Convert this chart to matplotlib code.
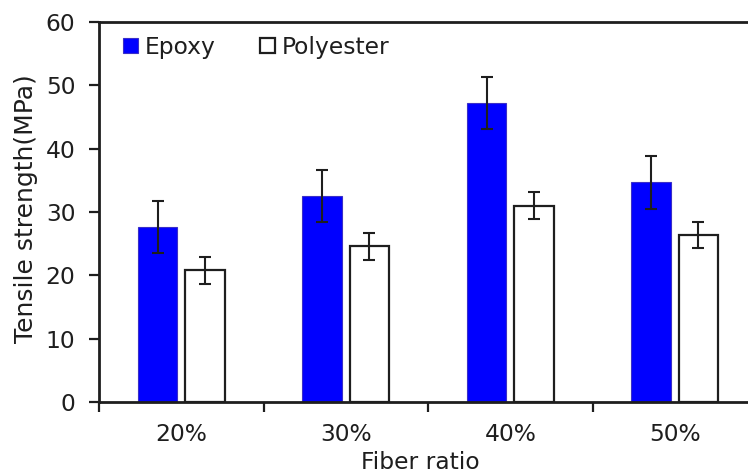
import matplotlib
matplotlib.use("Agg")
import matplotlib.pyplot as plt
import numpy as np

categories = ["20%", "30%", "40%", "50%"]
epoxy = [27.7, 32.5, 47.2, 34.7]
epoxy_err = [4.1, 4.1, 4.1, 4.2]
polyester = [20.8, 24.6, 31.0, 26.4]
polyester_err = [2.1, 2.1, 2.1, 2.1]
y_ticks = [0, 10, 20, 30, 40, 50, 60]

plt.rcParams['font.family'] = ['DejaVu Sans']
dark = '#1e1e1e'

fig = plt.figure(figsize=(7.48, 4.75), dpi=100)
ax = fig.add_axes([99/748, 73/475, 658/748, 380/475])

x = np.arange(len(categories)) + 0.5
w = 0.24
off = 0.143
ax.bar(x - off, epoxy, w, color='#0000FF', edgecolor='#3a2fc8', linewidth=0.8,
       label='Epoxy', zorder=2)
ax.bar(x + off, polyester, w, color='white', edgecolor=dark, linewidth=1.6,
       label='Polyester', zorder=2)
ax.errorbar(x - off, epoxy, yerr=epoxy_err, fmt='none', ecolor=dark,
            elinewidth=1.5, capsize=4, capthick=1.5, zorder=3)
ax.errorbar(x + off, polyester, yerr=polyester_err, fmt='none', ecolor=dark,
            elinewidth=1.5, capsize=4, capthick=1.5, zorder=3)

ax.set_xlim(0, len(categories))
ax.set_ylim(0, 60)
ax.set_yticks(y_ticks)
ax.set_yticklabels([str(v) for v in y_ticks], fontsize=16.8)

ax.set_xticks(np.arange(len(categories) + 1))
ax.set_xticklabels([])
ax.set_xticks(x, minor=True)
ax.set_xticklabels(categories, minor=True, fontsize=16.8)
ax.tick_params(axis='x', which='major', direction='out', length=7, width=1.6, color=dark)
ax.tick_params(axis='x', which='minor', length=0, pad=15, labelcolor=dark)
ax.tick_params(axis='y', direction='out', length=7, width=1.6, color=dark, pad=10,
               labelcolor=dark)

for s in ['left', 'bottom', 'top', 'right']:
    ax.spines[s].set_linewidth(2.0)
    ax.spines[s].set_color(dark)

ax.set_xlabel('Fiber ratio', fontsize=16.8, color=dark)
ax.xaxis.set_label_coords(0.489, -0.13)
ax.set_ylabel('Tensile strength(MPa)', fontsize=18, color=dark)
ax.yaxis.set_label_coords(-0.092, 0.51)

leg = ax.legend(loc='upper left', bbox_to_anchor=(24/658, 0.964), ncol=2, frameon=False,
                fontsize=16.8, handlelength=0.64, handleheight=0.64,
                handletextpad=0.3, columnspacing=1.88, borderpad=0, borderaxespad=0)
for t in leg.get_texts():
    t.set_color(dark)

fig.savefig('out.png', dpi=100)
